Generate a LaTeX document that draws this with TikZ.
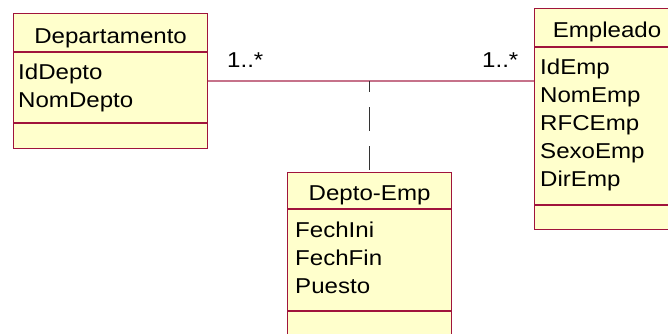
\documentclass[tikz,border=0pt]{standalone}
\usepackage{fontspec}
\setmainfont{Liberation Sans}[FakeStretch=1.12]
\usetikzlibrary{calc,
	positioning}
\definecolor{rosefill}{RGB}{255,255,204}
\definecolor{roseline}{RGB}{160,20,60}
\tikzstyle{clase}=[draw=roseline, fill=rosefill, line width=1.2pt, anchor=north west, inner sep=0]
\tikzstyle{sep}=[draw=roseline, line width=1.2pt]
\tikzstyle{tit}=[anchor=base, inner sep=0, font=\fontsize{21.5}{28}\selectfont]
\tikzstyle{attr}=[anchor=base west, inner sep=0, font=\fontsize{21.5}{28}\selectfont]
\tikzstyle{mult}=[anchor=base west, inner sep=0, font=\fontsize{21.5}{28}\selectfont]

\begin{document}
\begin{tikzpicture}[x=1pt, y=-1pt]
	\useasboundingbox (0,0) rectangle (668,333);
	\clip (0,0) rectangle (668,333);
	% clases
	\node[clase, minimum width=194pt, minimum height=135pt] (dep) at (13,13) {};
	\node[clase, minimum width=146pt, minimum height=221pt] (emp) at (534,8) {};
	\node[clase, minimum width=164pt, minimum height=170pt] (de) at (287,172) {};
	% separadores
	\draw[sep] (dep.west |- 0,52) -- (dep.east |- 0,52);
	\draw[sep] (dep.west |- 0,123) -- (dep.east |- 0,123);
	\draw[sep] (emp.west |- 0,47) -- (emp.east |- 0,47);
	\draw[sep] (emp.west |- 0,205) -- (emp.east |- 0,205);
	\draw[sep] (de.west |- 0,209) -- (de.east |- 0,209);
	\draw[sep] (de.west |- 0,311) -- (de.east |- 0,311);
	% nombres
	\node[tit] (depT) at (dep.north |- 0,43) {Departamento};
	\node[tit] (empT) at (607,37) {Empleado};
	\node[tit] (deT) at (de.north |- 0,200) {Depto-Emp};
	% atributos
	\foreach \a [count=\i] in {IdDepto,NomDepto}
		\node[attr] (depA\i) at (18,{51+28*\i}) {\a};
	\foreach \a [count=\i] in {IdEmp,NomEmp,RFCEmp,SexoEmp,DirEmp}
		\node[attr] (empA\i) at (540,{46+28*\i}) {\a};
	\foreach \a [count=\i] in {FechIni,FechFin,Puesto}
		\node[attr] (deA\i) at (295,{209+28*\i}) {\a};
	% asociacion
	\draw[roseline!60, line width=1.4pt] (dep.east) -- coordinate (asoc) (emp.west |- dep.east);
	\draw[black!80, line width=0.8pt, dash pattern=on 24pt off 15pt, dash phase=13pt] (asoc -| de.north) -- (de.north);
	\node[mult] (m1) at (227,67) {1..*};
	\node[mult] (m2) at (482,67) {1..*};
\end{tikzpicture}
\end{document}
